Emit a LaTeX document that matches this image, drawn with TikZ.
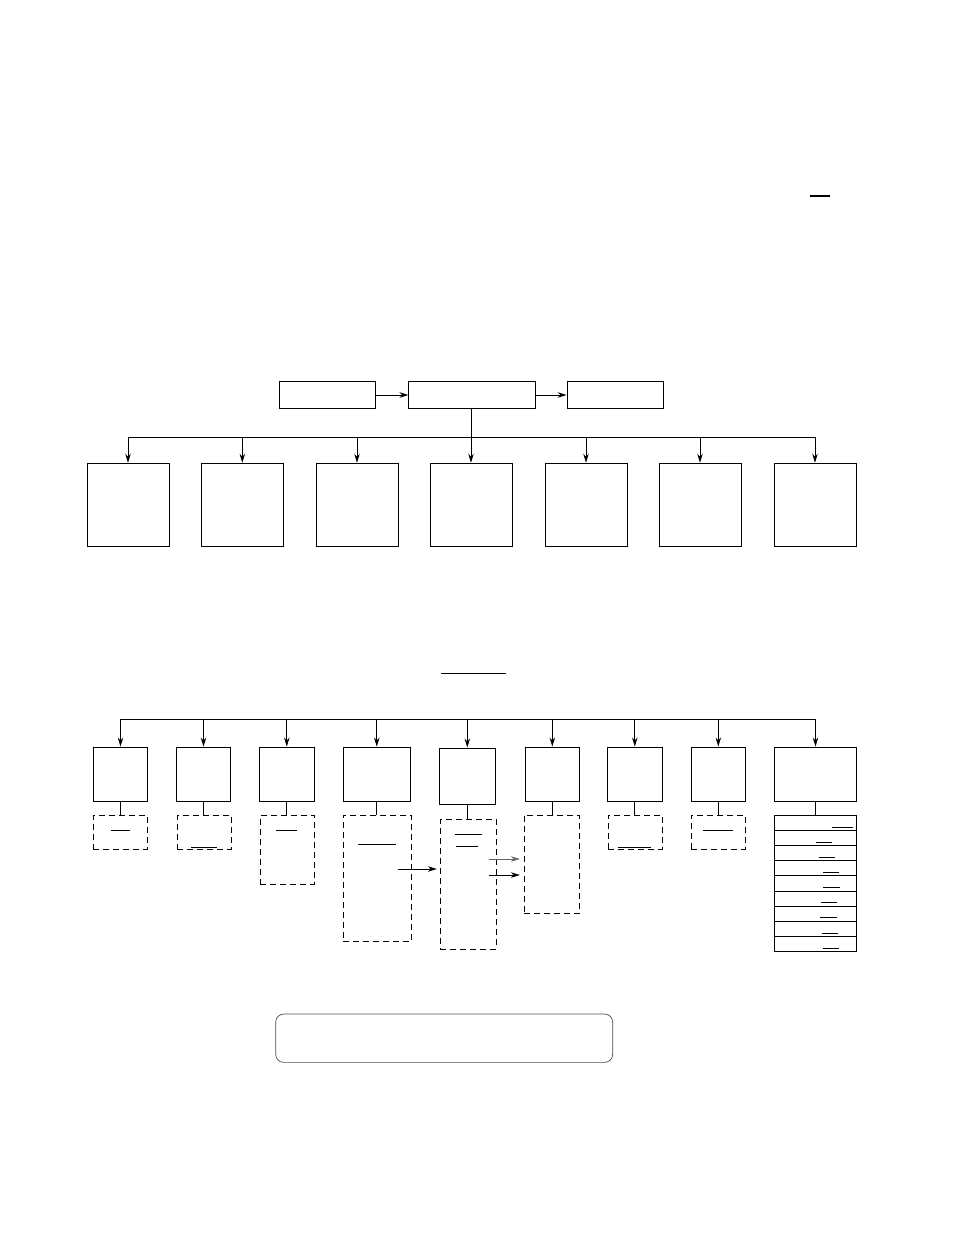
\documentclass[tikz,border=0pt]{standalone}
\usepackage{tikz}
\usetikzlibrary{arrows.meta,calc,positioning}
\tikzstyle{block}=[rectangle, draw, inner sep=0pt, line width=0.9pt]

\begin{document}
\begin{tikzpicture}[x=1pt,y=-1pt,line width=0.9pt,>={Stealth[length=9pt,width=5.5pt]},
  dashbox/.style={block,dash pattern=on 6pt off 4pt},
  rowbox/.style={block,minimum width=82.4pt,minimum height=15.15pt}]
\useasboundingbox (0,0) rectangle (954,1235);

% top row
\node (t1) at (327.3,395)[block,minimum width=96pt,minimum height=26.6pt] {};
\node (t2) at (472,395)[block,minimum width=126.4pt,minimum height=26.6pt] {};
\node (t3) at (615.2,395)[block,minimum width=96.3pt,minimum height=26.6pt] {};
\draw[->] (t1) -- (t2);
\draw[->] (t2) -- (t3);

% second row
\foreach \i/\x in {1/128,2/242.3,3/357,4/471,5/586,6/700,7/815}
  \node (m\i) at (\x,504.7)[block,minimum width=82pt,minimum height=83pt] {};
\coordinate (bus1) at (471,437);
\draw (t2.south -| bus1) -- (bus1);
\draw (m1.north |- bus1) -- (m7.north |- bus1);
\foreach \i in {1,...,7}
  \draw[->] (m\i.north |- bus1) -- (m\i.north);

% third row
\foreach \i/\x/\y/\w/\h in {1/120.5/774/54.4/54, 2/203.5/774/54/54, 3/286.8/774/55/54,
    4/376.8/774/67/54, 5/467.3/776/56/56, 6/552.3/774/54/54, 7/634.8/774/55/54,
    8/718.3/774/54/54, 9/815.5/774/82.4/54}
  \node (b\i) at (\x,\y)[block,minimum width=\w pt,minimum height=\h pt] {};
\coordinate (bus2) at (467.3,719.3);
\draw (b1.north |- bus2) -- (b9.north |- bus2);
\foreach \i in {1,...,9}
  \draw[->] (b\i.north |- bus2) -- (b\i.north);

\foreach \i/\x/\y/\w/\h in {1/120.5/832.3/54.4/33.3, 2/204.5/832.3/54.4/33.3,
    3/287.5/849.8/54.4/68.3, 4/377.5/878.2/68.4/126.3, 5/468.3/884.2/56/129.7,
    6/552/864.2/55.4/98.3, 7/635.3/832/54/34, 8/718.3/832/54/34}
  \node (d\i) at (\x,\y)[dashbox,minimum width=\w pt,minimum height=\h pt] {};
\foreach \i in {1,...,8}
  \draw (b\i.south) -- (b\i.south |- d\i.north);

\foreach \i in {1,...,9}
  \node (r\i) at (815.5,{815.3+15.15*(\i-0.5)})[rowbox] {};
\draw (b9.south) -- (r1.north);

% arrows between the dashed boxes
\coordinate (a1) at (398,869);
\coordinate (a2) at (488.7,859);
\coordinate (a3) at (488.7,875);
\draw[->,shorten >=3pt] (a1) -- (a1 -| d5.west);
\draw[->,shorten >=4pt,black!60,line width=0.7pt] (a2) -- (a2 -| d6.west);
\draw[->,shorten >=4pt] (a3) -- (a3 -| d6.west);

% underlines
\begin{scope}[line width=0.8pt]
\draw[line width=1.8pt] (810,195.7) -- (830,195.7);
\draw (441,673.3) -- (505.7,673.3);
\draw (111,830) -- (130,830);
\draw (191,847) -- (216.7,847);
\draw (276,830) -- (296.7,830);
\draw (358.3,844.3) -- (395.7,844.3);
\draw (455,834.3) -- (481.7,834.3);
\draw (456,846) -- (477.7,846);
\draw (618.3,847.3) -- (651,847.3);
\draw (703.3,830) -- (732.7,830);
\foreach \i/\a/\b in {1/832/852.7, 2/816/831.7, 3/819/835, 4/823/838.7, 5/823/839.7,
    6/821/837, 7/820/837, 8/822/838, 9/822.7/839}
  \draw ($(r\i.south)+(0,-4)-(815.5,0)+(\a,0)$) -- ($(r\i.south)+(0,-4)-(815.5,0)+(\b,0)$);
\end{scope}

% note
\node (note) at (444.2,1038.2)[block,rounded corners=8pt,draw=black!70,line width=0.7pt,minimum width=337pt,minimum height=48.3pt] {};
\end{tikzpicture}
\end{document}
